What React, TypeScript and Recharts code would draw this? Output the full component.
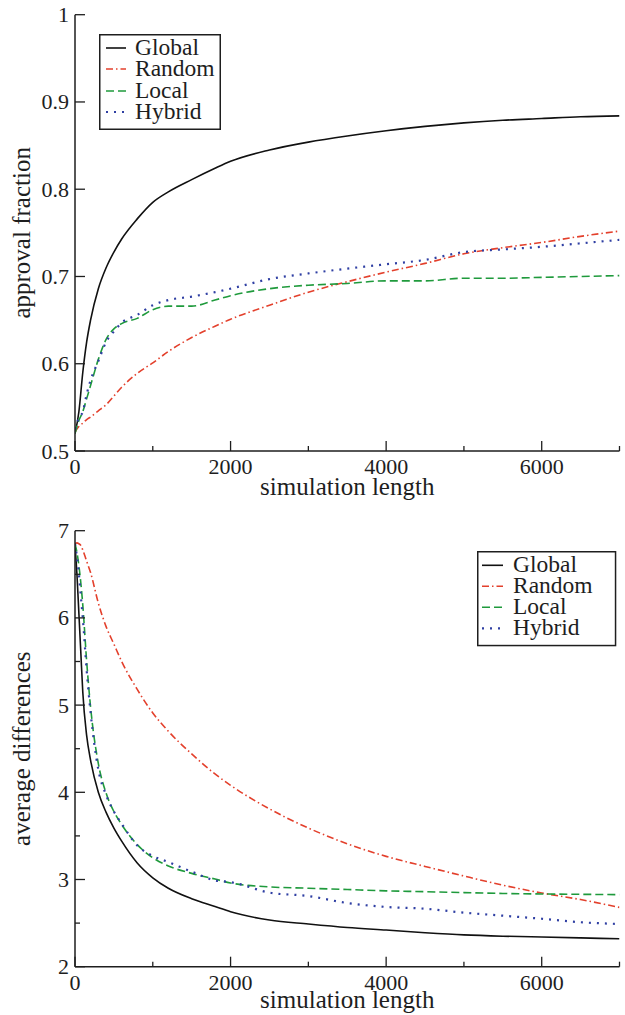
import React from 'react';
import { LineChart, Line, XAxis, YAxis, Legend } from 'recharts';

const FONT = '"Liberation Serif", "Times New Roman", serif';
const INK = '#1e1e1e';

// ---- series styling ----
const seriesNames = ['Global', 'Random', 'Local', 'Hybrid'];
const seriesKeys = ['global', 'random', 'local', 'hybrid'];
const seriesColors = ['#111111', '#e3402c', '#1f9a3c', '#2f3fa3'];
const seriesDashes = ['', '7 3 1.5 3', '8 4', '2 6'];
const seriesWidths = [1.6, 1.6, 1.6, 2.2];

// ---- shared x axis ----
const xTicks = [0, 1000, 2000, 3000, 4000, 5000, 6000, 7000];
const xLabelTicks = [0, 2000, 4000, 6000];

// ---- top chart: approval fraction ----
const approvalX = [0, 50, 100, 150, 200, 300, 400, 500, 600, 800, 1000, 1200, 1500, 1800, 2000, 2500, 3000, 3500, 4000, 4500, 5000, 5500, 6000, 6500, 7000];
const approvalGlobal = [0.52, 0.545, 0.59, 0.625, 0.65, 0.686, 0.71, 0.728, 0.743, 0.766, 0.785, 0.797, 0.811, 0.824, 0.832, 0.845, 0.854, 0.861, 0.867, 0.872, 0.876, 0.879, 0.881, 0.883, 0.884];
const approvalRandom = [0.522, 0.528, 0.532, 0.536, 0.539, 0.546, 0.553, 0.563, 0.573, 0.589, 0.601, 0.614, 0.63, 0.643, 0.651, 0.667, 0.682, 0.694, 0.705, 0.715, 0.726, 0.733, 0.739, 0.746, 0.752];
const approvalLocal = [0.52, 0.535, 0.545, 0.56, 0.575, 0.605, 0.628, 0.64, 0.646, 0.652, 0.662, 0.666, 0.666, 0.673, 0.678, 0.686, 0.69, 0.692, 0.695, 0.695, 0.698, 0.698, 0.699, 0.7, 0.701];
const approvalHybrid = [0.525, 0.538, 0.545, 0.565, 0.581, 0.603, 0.625, 0.637, 0.647, 0.656, 0.667, 0.673, 0.677, 0.682, 0.686, 0.697, 0.7035, 0.709, 0.714, 0.719, 0.728, 0.731, 0.734, 0.738, 0.742];
const approvalYTicks = [0.5, 0.6, 0.7, 0.8, 0.9, 1];
const approvalYMajor = [0.5, 0.6, 0.7, 0.8, 0.9, 1];

// ---- bottom chart: average differences ----
const diffX = [0, 25, 50, 75, 100, 150, 200, 300, 400, 500, 600, 800, 1000, 1200, 1500, 1800, 2000, 2500, 3000, 3500, 4000, 4500, 5000, 5500, 6000, 6500, 7000];
const diffGlobal = [6.85, 6.5, 6.05, 5.6, 5.15, 4.65, 4.37, 4.0, 3.77, 3.59, 3.44, 3.19, 3.02, 2.9, 2.78, 2.69, 2.63, 2.535, 2.49, 2.45, 2.42, 2.39, 2.365, 2.35, 2.34, 2.33, 2.32];
const diffRandom = [6.85, 6.86, 6.85, 6.83, 6.78, 6.65, 6.52, 6.17, 5.9, 5.7, 5.5, 5.18, 4.91, 4.7, 4.44, 4.21, 4.08, 3.81, 3.59, 3.41, 3.265, 3.15, 3.04, 2.935, 2.845, 2.77, 2.68];
const diffLocal = [6.85, 6.75, 6.6, 6.4, 6.15, 5.5, 4.98, 4.33, 3.99, 3.78, 3.63, 3.4, 3.25, 3.155, 3.07, 3.005, 2.96, 2.915, 2.9, 2.885, 2.87, 2.86, 2.85, 2.84, 2.834, 2.83, 2.826];
const diffHybrid = [6.85, 6.7, 6.5, 6.25, 6.0, 5.4, 4.92, 4.26, 3.97, 3.78, 3.64, 3.39, 3.27, 3.2, 3.09, 2.99, 2.97, 2.85, 2.81, 2.73, 2.685, 2.665, 2.62, 2.585, 2.55, 2.51, 2.49];
const diffYTicks = [2, 2.5, 3, 3.5, 4, 4.5, 5, 5.5, 6, 6.5, 7];
const diffYMajor = [2, 3, 4, 5, 6, 7];

function buildRows(xs: number[], cols: number[][]) {
  return xs.map((x, i) => {
    const row: any = { x };
    seriesKeys.forEach((k, j) => {
      row[k] = cols[j][i];
    });
    return row;
  });
}

const approvalData = buildRows(approvalX, [approvalGlobal, approvalRandom, approvalLocal, approvalHybrid]);
const diffData = buildRows(diffX, [diffGlobal, diffRandom, diffLocal, diffHybrid]);

const isMajorX = (v: number) => xLabelTicks.includes(v);

const textStyle = { fontFamily: FONT, fill: INK };

function BottomTick(p: any) {
  const { x, y, payload } = p;
  const major = isMajorX(payload.value);
  return (
    <g>
      <line x1={x} y1={y} x2={x} y2={y - (major ? 10 : 5)} stroke={INK} strokeWidth={1.3} />
      {major && (
        <text x={x} y={y + 23} textAnchor="middle" fontSize={22} {...textStyle}>
          {String(payload.value)}
        </text>
      )}
    </g>
  );
}

function TopTick(p: any) {
  const { x, y, payload } = p;
  const major = isMajorX(payload.value);
  return <line x1={x} y1={y} x2={x} y2={y + (major ? 10 : 5)} stroke={INK} strokeWidth={1.3} />;
}

function makeLeftTick(majors: number[]) {
  return (p: any) => {
    const { x, y, payload } = p;
    const major = majors.includes(payload.value);
    return (
      <g>
        <line x1={x} y1={y} x2={x + (major ? 10 : 5)} y2={y} stroke={INK} strokeWidth={1.3} />
        {major && (
          <text x={x - 6} y={y + 7.5} textAnchor="end" fontSize={22} {...textStyle}>
            {String(payload.value)}
          </text>
        )}
      </g>
    );
  };
}

function makeRightTick(majors: number[]) {
  return (p: any) => {
    const { x, y, payload } = p;
    const major = majors.includes(payload.value);
    return <line x1={x} y1={y} x2={x - (major ? 10 : 5)} y2={y} stroke={INK} strokeWidth={1.3} />;
  };
}

function LegendBox(props: { w: number; h: number; baselines: number[]; sampleX: [number, number]; textX: number }) {
  const { w, h, baselines, sampleX, textX } = props;
  return (
    <svg width={w} height={h} style={{ display: 'block', overflow: 'visible' }}>
      <rect x={0.75} y={0.75} width={w - 1.5} height={h - 1.5} fill="#fff" stroke={INK} strokeWidth={1.5} />
      {seriesNames.map((name, i) => (
        <g key={name}>
          <line
            x1={sampleX[0]}
            x2={sampleX[1]}
            y1={baselines[i] - 7}
            y2={baselines[i] - 7}
            stroke={seriesColors[i]}
            strokeWidth={seriesWidths[i]}
            strokeDasharray={seriesDashes[i] || undefined}
          />
          <text x={textX} y={baselines[i]} fontSize={23.5} {...textStyle}>
            {name}
          </text>
        </g>
      ))}
    </svg>
  );
}

type PanelProps = {
  data: any[];
  height: number;
  marginTop: number;
  xAxisHeight: number;
  xTitleOffset: number;
  yDomain: [number, number];
  yTicks: number[];
  yMajor: number[];
  yTitle: string;
  legendPos: { left: number; top: number; w: number; h: number; sampleX: [number, number]; textX: number; baselines: number[] };
};

const PLOT_LEFT = 75;
const MARGIN_RIGHT = 5.5;

function Panel(props: PanelProps) {
  const { data, height, marginTop, xAxisHeight, xTitleOffset, yDomain, yTicks, yMajor, yTitle, legendPos } = props;
  const plotBottom = height - xAxisHeight;
  const plotCenterY = (marginTop + plotBottom) / 2;
  const plotCenterX = (PLOT_LEFT + (625 - MARGIN_RIGHT)) / 2;
  return (
    <LineChart width={625} height={height} data={data} margin={{ top: marginTop, right: MARGIN_RIGHT, left: 0, bottom: 0 }}>
      <XAxis
        dataKey="x"
        type="number"
        domain={[0, 7000]}
        ticks={xTicks}
        interval={0}
        allowDataOverflow
        height={xAxisHeight}
        tickSize={0}
        tickMargin={0}
        tickLine={false}
        axisLine={{ stroke: INK, strokeWidth: 1.5 }}
        tick={(p: any) => <BottomTick {...p} />}
        label={() => (
          <text x={plotCenterX} y={plotBottom + xTitleOffset} textAnchor="middle" fontSize={25} {...textStyle}>
            simulation length
          </text>
        )}
      />
      <XAxis
        xAxisId="top"
        orientation="top"
        dataKey="x"
        type="number"
        domain={[0, 7000]}
        ticks={xTicks}
        interval={0}
        allowDataOverflow
        height={0}
        tickSize={0}
        tickMargin={0}
        tickLine={false}
        axisLine={{ stroke: INK, strokeWidth: 1.5 }}
        tick={(p: any) => <TopTick {...p} />}
      />
      <YAxis
        type="number"
        domain={yDomain}
        ticks={yTicks}
        interval={0}
        allowDataOverflow
        width={PLOT_LEFT}
        tickSize={0}
        tickMargin={0}
        tickLine={false}
        axisLine={{ stroke: INK, strokeWidth: 1.5 }}
        tick={makeLeftTick(yMajor)}
        label={() => (
          <text
            x={30}
            y={plotCenterY}
            transform={`rotate(-90 30 ${plotCenterY})`}
            textAnchor="middle"
            fontSize={25}
            {...textStyle}
          >
            {yTitle}
          </text>
        )}
      />
      <YAxis
        yAxisId="right"
        orientation="right"
        type="number"
        domain={yDomain}
        ticks={yTicks}
        interval={0}
        allowDataOverflow
        width={0}
        tickSize={0}
        tickMargin={0}
        tickLine={false}
        axisLine={{ stroke: INK, strokeWidth: 1.5 }}
        tick={makeRightTick(yMajor)}
      />
      {seriesKeys.map((k, i) => (
        <Line
          key={k}
          dataKey={k}
          name={seriesNames[i]}
          type="monotone"
          stroke={seriesColors[i]}
          strokeWidth={seriesWidths[i]}
          strokeDasharray={seriesDashes[i] || undefined}
          dot={false}
          activeDot={false}
          isAnimationActive={false}
        />
      ))}
      <Legend
        layout="vertical"
        align="center"
        verticalAlign="middle"
        wrapperStyle={{ left: legendPos.left, top: legendPos.top, width: legendPos.w, height: legendPos.h }}
        content={() => (
          <LegendBox
            w={legendPos.w}
            h={legendPos.h}
            baselines={legendPos.baselines}
            sampleX={legendPos.sampleX}
            textX={legendPos.textX}
          />
        )}
      />
    </LineChart>
  );
}

export default function App() {
  return (
    <div style={{ position: 'absolute', left: 0, top: 0, width: 625, height: 1015, background: '#fff' }}>
      <div style={{ position: 'absolute', left: 0, top: 0 }}>
        <Panel
          data={approvalData}
          height={505}
          marginTop={14.7}
          xAxisHeight={54}
          xTitleOffset={44}
          yDomain={[0.5, 1]}
          yTicks={approvalYTicks}
          yMajor={approvalYMajor}
          yTitle="approval fraction"
          legendPos={{ left: 99, top: 34, w: 122, h: 96, sampleX: [7, 27], textX: 36, baselines: [21, 42, 64, 85] }}
        />
      </div>
      <div style={{ position: 'absolute', left: 0, top: 505 }}>
        <Panel
          data={diffData}
          height={510}
          marginTop={25.7}
          xAxisHeight={48.3}
          xTitleOffset={41}
          yDomain={[2, 7]}
          yTicks={diffYTicks}
          yMajor={diffYMajor}
          yTitle="average differences"
          legendPos={{ left: 476.7, top: 45.7, w: 139.3, h: 95.3, sampleX: [5, 26], textX: 36, baselines: [21.3, 42.3, 63.3, 84.3] }}
        />
      </div>
    </div>
  );
}
